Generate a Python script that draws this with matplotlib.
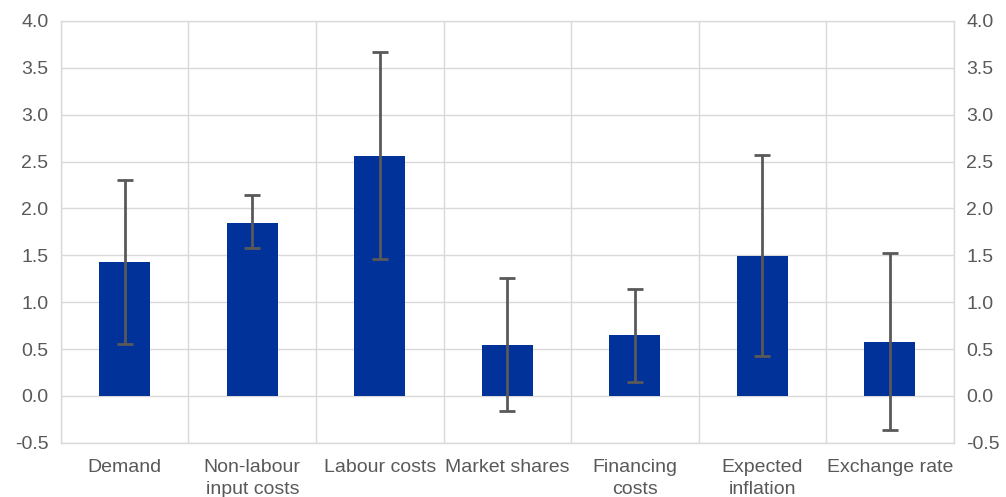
import numpy as np
import matplotlib.pyplot as plt

plt.rcParams['font.family'] = ['Liberation Sans', 'DejaVu Sans']

# 항목과 값
categories = ['Demand', 'Non-labour\ninput costs', 'Labour costs', 'Market shares',
              'Financing\ncosts', 'Expected\ninflation', 'Exchange rate']
values = [1.43, 1.84, 2.56, 0.54, 0.65, 1.49, 0.58]
err_high = [2.30, 2.14, 3.67, 1.26, 1.14, 2.57, 1.52]
err_low = [0.55, 1.58, 1.46, -0.16, 0.15, 0.43, -0.36]

x = np.arange(len(categories))
values_arr = np.array(values)
yerr = [values_arr - np.array(err_low), np.array(err_high) - values_arr]

fig = plt.figure(figsize=(10.06, 4.97), dpi=100)
ax = fig.add_axes([0.0606, 0.109, 0.8874, 0.849])

grid_c = '#d9d9d9'
text_c = '#595959'
fs = 14

ax.bar(x, values, width=0.4, color='#003299', zorder=3)
ax.errorbar(x, values, yerr=yerr, fmt='none', ecolor='#595959', elinewidth=2,
            capsize=6, capthick=2, zorder=4)

ticks = np.arange(-0.5, 4.01, 0.5)
ax.set_xlim(-0.5, len(categories) - 0.5)
ax.set_ylim(-0.5, 4.0)
ax.set_yticks(ticks)
ax.set_yticklabels([f'{v:.1f}' for v in ticks])
ax.set_xticks(x)
ax.set_xticklabels(categories, linespacing=1.35, va='top')
ax.set_xticks(np.arange(-0.5, len(categories), 1.0), minor=True)

ax.grid(axis='y', which='major', color=grid_c, linewidth=1, zorder=0)
ax.grid(axis='x', which='minor', color=grid_c, linewidth=1, zorder=0)
ax.grid(axis='x', which='major', visible=False)

for s in ax.spines.values():
    s.set_color(grid_c)
    s.set_linewidth(1)

ax.tick_params(axis='both', which='both', length=0, colors=text_c, labelsize=fs)
ax.tick_params(axis='x', pad=12)
ax.tick_params(axis='y', pad=9)

ax2 = ax.twinx()
ax2.set_ylim(ax.get_ylim())
ax2.set_yticks(ticks)
ax2.set_yticklabels([f'{v:.1f}' for v in ticks])
ax2.tick_params(axis='y', length=0, colors=text_c, labelsize=fs, pad=9)
for s in ax2.spines.values():
    s.set_visible(False)

plt.savefig('out.png', dpi=100)
